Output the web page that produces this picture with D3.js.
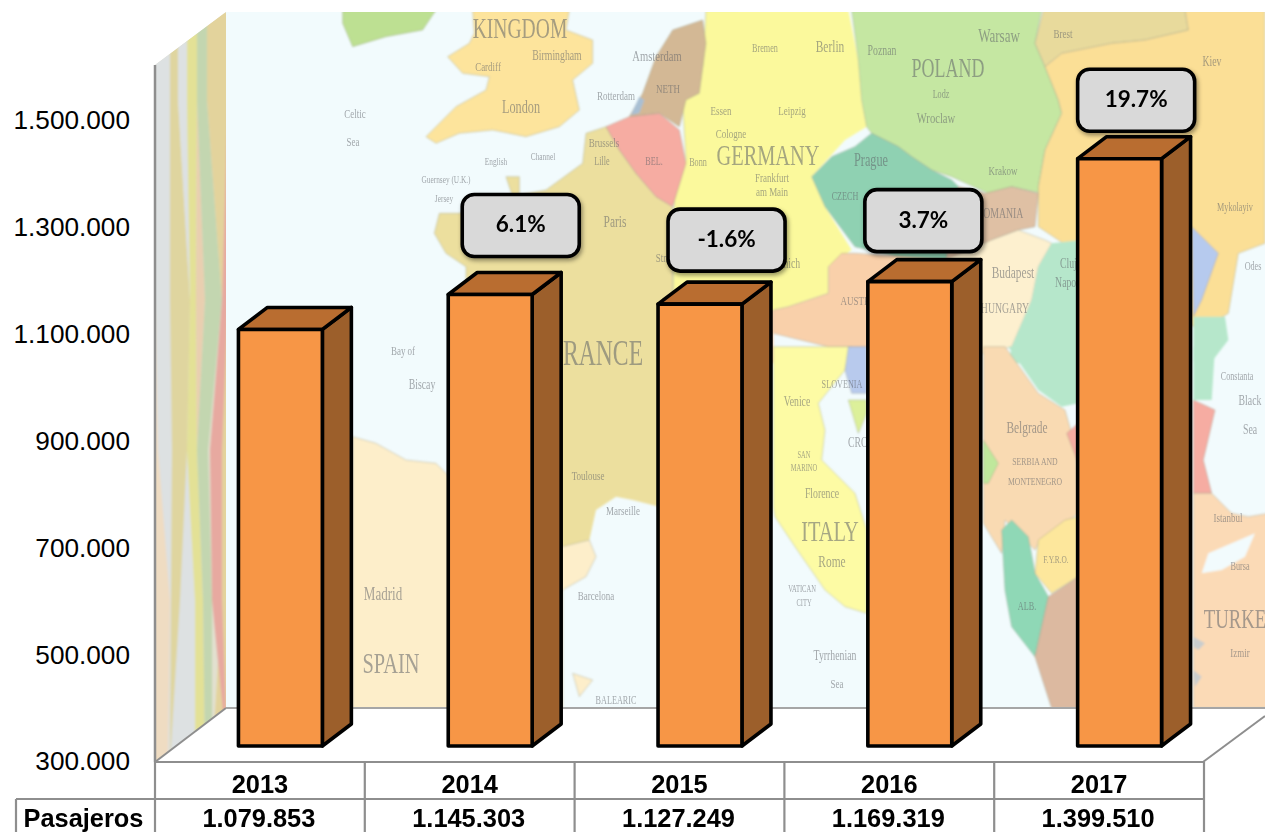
<!DOCTYPE html>
<html><head><meta charset="utf-8">
<script src="https://cdn.jsdelivr.net/npm/d3@7"></script>
<style>html,body{margin:0;padding:0;background:#fff;overflow:hidden}svg{display:block}</style>
</head><body><svg id="c" width="1265" height="832"></svg>
<script>
const years = ["2013","2014","2015","2016","2017"];
const passengers = [1079853,1145303,1127249,1169319,1399510];
const changes = [null,"6.1%","-1.6%","3.7%","19.7%"];
const yTicks = [300000,500000,700000,900000,1100000,1300000,1500000];
const rowLabel = "Pasajeros";

const svg = d3.select("#c");
const es = d3.formatLocale({decimal:",",thousands:".",grouping:[3],currency:["",""]}).format(",d");
const defs = svg.append("defs");
defs.append("filter").attr("id","blur").attr("x","-5%").attr("y","-5%").attr("width","110%").attr("height","110%")
  .append("feGaussianBlur").attr("stdDeviation",1);
defs.append("filter").attr("id","tblur").append("feGaussianBlur").attr("stdDeviation",0.45);
defs.append("filter").attr("id","wblur").append("feGaussianBlur").attr("stdDeviation",1.2);
const sh = defs.append("filter").attr("id","shadow").attr("x","-10%").attr("y","-10%").attr("width","125%").attr("height","130%");
sh.append("feDropShadow").attr("dx",1.5).attr("dy",2.5).attr("stdDeviation",2).attr("flood-color","#000").attr("flood-opacity",.4);
defs.append("clipPath").attr("id","wall").append("rect").attr("x",226).attr("y",12).attr("width",1039).attr("height",696);
defs.append("clipPath").attr("id","side").append("polygon").attr("points","155,65 226,12 226,708 155,762");

/* ---------- backdrop: faded map on the back wall ---------- */
const panels = {a:[226,0],b:[745,0],c:[226,350],d:[745,350]};
const back = svg.append("g").attr("clip-path","url(#wall)");
back.append("rect").attr("x",226).attr("y",12).attr("width",1039).attr("height",696).attr("fill","#f2fbfd");
const land = back.append("g").attr("filter","url(#blur)");
function region(p,color,pts,noLine){
  const [ox,oy]=panels[p];
  land.append("polygon").attr("fill",color).attr("stroke",noLine?"none":"#8d8f7c").attr("stroke-opacity",.35).attr("stroke-width",1)
    .attr("points",pts.trim().split(/\s+/).map(s=>{const [x,y]=s.split(",").map(Number);return (ox+x/3)+","+(oy+y/3);}).join(" "));
}
// west
region("a","#bde092","350,30 630,30 590,90 480,110 380,140 350,70");
region("a","#fde49c","740,30 1030,30 1020,90 1100,120 1100,190 1040,240 1060,330 1000,380 900,410 800,390 700,400 630,430 600,410 690,320 780,270 790,230 710,220 665,170 730,130 745,100");
region("a","#fbf99c","1440,30 1600,30 1600,1000 1340,1000 1345,600 1380,480 1370,310 1430,200");
region("a","#ecdf9e","1080,400 1140,380 1180,450 1230,520 1290,590 1340,620 1340,1080 720,1080 720,800 660,760 625,700 640,640 700,640 860,590 840,530 880,530 880,585 960,570 1070,490");
region("c","#ecdf9e","700,0 1300,0 1300,470 1220,450 1170,440 1110,480 1090,570 1010,590 700,380",true);
region("c","#fdeeca","380,260 450,280 540,330 630,340 660,370 1010,590 1090,570 1110,620 1080,680 1010,720 1010,1090 380,1090 380,400");
region("c","#fdeeca","1040,970 1100,990 1060,1040");
region("a","#d3b895","1340,90 1430,60 1440,130 1420,280 1380,300 1360,380 1300,340 1210,350 1250,280 1290,170");
region("a","#a9bfd3","1215,345 1240,290 1255,300 1240,340",true);
region("a","#f6aca2","1140,380 1210,350 1300,340 1360,390 1380,490 1340,620 1290,590 1230,520 1180,450");
// germany east, central europe
region("b","#fbf99c","-20,30 310,30 340,180 350,300 365,380 300,420 200,530 240,620 320,750 250,800 250,880 130,920 85,930 -20,950",true);
region("b","#c5e7a2","320,30 890,30 870,130 900,200 940,300 950,340 900,450 880,560 890,580 800,560 730,580 620,530 560,510 500,470 460,440 380,400 365,380 350,300 340,180");
region("b","#e8da9c","895,30 1320,30 1330,90 1200,120 1100,130 950,160 900,200 870,130");
region("b","#fbdf96","900,200 950,160 1100,130 1200,120 1330,90 1320,30 1560,30 1560,730 1480,760 1450,940 1370,990 1345,980 1000,760 940,720 880,680 880,560 900,450 950,340 940,300");
region("b","#b6caee","1340,680 1420,760 1370,900 1345,950");
region("b","#8fd1b2","200,530 260,470 330,440 380,400 460,440 500,470 560,510 620,540 640,560 600,800 330,740 240,620");
region("b","#dfc0a4","640,560 720,580 800,560 880,580 870,680 820,690 740,720 600,800");
region("b","#fdf0cf","600,780 740,720 820,690 900,720 920,730 880,800 860,900 800,1040 720,1060 600,1060");
region("b","#b6e7cb","920,730 1010,720 1100,900 1100,1090 790,1090 800,1040 860,900 880,800",true);
region("b","#b6e7cb","1345,950 1440,950 1450,1020 1400,1085 1345,1085",true);
region("b","#f9d0aa","250,800 290,760 330,760 620,780 620,1040 250,1040 85,1000 85,930 130,920 250,880");
region("b","#f9d0aa","-20,950 85,930 85,1090 -20,1090",true);
// south
region("d","#fdfba4","85,-10 320,-10 300,60 220,160 240,240 230,330 330,430 365,540 365,790 300,770 240,720 150,590 90,500 85,470");
region("d","#b8caed","310,-10 365,-10 365,130 320,130 300,60");
region("d","#dcf09a","310,150 365,150 365,190 340,250");
region("d","#f9dab2","715,-10 780,-10 880,130 960,180 980,250 995,330 1000,490 880,580 870,600 780,510 770,610 715,520");
region("d","#b6e7cb","790,-10 1000,-10 1000,160 950,170 880,120",true);
region("d","#f6aca2","965,250 1000,220 1000,340");
region("d","#bfe89c","715,270 760,340 730,400 715,400");
region("d","#fde79c","880,570 960,510 1000,500 1000,680 920,730 870,670");
region("d","#8fd8b6","770,540 800,510 850,560 870,670 910,740 870,920 800,830 780,720");
region("d","#dcb9a0","910,740 1000,680 1000,1075 920,1075 870,920");
region("d","#b6e7cb","1345,-10 1410,-10 1400,150 1345,150",true);
region("d","#f6aca2","1345,150 1410,180 1375,330 1400,430 1345,430");
region("d","#fbdab6","1345,430 1400,430 1460,490 1510,500 1570,490 1570,1075 1345,1075");
region("d","#f2fbfd","1390,610 1530,550 1500,620 1430,660 1370,670",true);
region("d","#c9cdce","1345,860 1380,880 1360,900 1345,890",true);
region("d","#c9cdce","1345,960 1370,980 1350,1010",true);

// map captions: text, x, y, size
const captions = [
 ["KINGDOM",520,38,24],["Birmingham",557,60,12],["Cardiff",488,71,11],["London",521,113,15],
 ["Celtic",355,118,11],["Sea",353,146,11],["Guernsey (U.K.)",446,183,9],["Jersey",444,202,9],
 ["English",496,165,9],["Channel",543,160,9],["Amsterdam",657,61,13],["Rotterdam",616,100,11],["NETH",668,93,11],
 ["Brussels",604,147,11],["Lille",602,165,10],["BEL.",654,165,10],["Paris",615,227,14],["Essen",721,115,11],["Cologne",731,138,11],
 ["GERMANY",768,165,25],["Bonn",698,166,10],["Frankfurt",772,182,11],["am Main",772,196,11],["Bremen",765,52,10],["Berlin",830,52,14],
 ["Leipzig",792,115,11],["Prague",871,166,15],["CZECH",845,200,10],["Poznan",882,55,12],["POLAND",948,77,22],["Lodz",941,98,10],
 ["Warsaw",999,42,16],["Wroclaw",936,123,13],["Krakow",1003,175,11],["Brest",1063,38,11],["Kiev",1212,66,12],["Mykolayiv",1235,211,10],
 ["Odes",1253,270,10],["Bay of",403,355,11],["Biscay",422,389,12],["RANCE",603,365,29],["Toulouse",588,480,11],["Marseille",623,515,11],
 ["Madrid",383,600,16],["SPAIN",391,673,25],["Barcelona",596,600,11],["BALEARIC",616,704,10],["Venice",797,406,12],["SLOVENIA",842,388,10],
 ["SAN",804,458,8],["MARINO",804,471,8],["Florence",822,498,12],["ITALY",830,541,25],["Rome",832,567,14],["VATICAN",802,592,8],["CITY",804,606,8],
 ["Tyrrhenian",835,660,12],["Sea",837,688,11],["Belgrade",1027,433,14],["SERBIA AND",1035,465,9.5],["MONTENEGRO",1035,485,9.5],["F.Y.R.O.",1056,563,9],
 ["ALB.",1027,610,10],["Constanta",1237,380,10],["Black",1250,405,12],["Sea",1250,434,12],["Istanbul",1228,522,11],["Bursa",1240,570,10],
 ["TURKE",1235,628,23],["Izmir",1240,657,11],["Budapest",1013,278,14],["AUSTRIA",860,305,11],["Munich",785,268,12],["Cluj-",1070,268,12],["Napoca",1070,287,12],
 ["ROMANIA",1000,218,12],["HUNGARY",1005,313,12],["CRO",858,447,12],["Strasbourg",675,262,11]
];
back.append("g").attr("filter","url(#tblur)").selectAll("text").data(captions).join("text")
  .attr("transform",d=>`translate(${d[1]},${d[2]}) scale(.68,1)`).attr("font-size",d=>d[3]*1.2).attr("text-anchor","middle")
  .attr("font-family","Liberation Serif").attr("fill","#5f6268").attr("opacity",.55).text(d=>d[0]);

/* ---------- side wall ---------- */
const sideG = svg.append("g").attr("clip-path","url(#side)");
const bandLine = d3.line().x(d=>d[0]).y(d=>d[1]);
const sideYs=[12,100,300,450,600,762];
const sideBands=[
 ["#dde1e2",[155,155,155,155,155,155],[172,172,172,174,172,170]],
 ["#efdcc2",[155,155,155,155,155,155],[155,155,155,158,170,168]],
 ["#dfd59f",[170,170,170,172,171,170],[178,178,190,187,185,172]],
 ["#dde1e2",[178,178,190,187,180,170],[187,187,190,187,195,195]],
 ["#e3e196",[187,187,190,187,195,195],[197,197,196,197,203,205]],
 ["#e9cfb0",[197,197,196,197,197,197],[197,197,205,197,197,197]],
 ["#c3d6b0",[197,197,205,197,203,205],[207,207,222,208,212,212]],
 ["#e3d39c",[207,207,222,222,222,212],[228,228,228,228,228,228]],
 ["#e7a9a0",[228,228,222,210,212,228],[228,228,228,222,222,228]]
];
sideG.append("rect").attr("x",150).attr("y",0).attr("width",80).attr("height",770).attr("fill","#e2e0cf");
sideG.append("g").attr("filter","url(#wblur)").selectAll("path").data(sideBands).join("path")
  .attr("fill",d=>d[0]).attr("d",d=>{
    const l=d[1].map((x,i)=>[x,sideYs[i]]), r=d[2].map((x,i)=>[x,sideYs[i]]).reverse();
    return bandLine(l.concat(r))+"Z";});

/* ---------- floor and frame ---------- */
const grey="#8e8e8e";
svg.append("polygon").attr("points","155,762 226,708 1265,708 1265,716 1203,762").attr("fill","#fff");
const frame=[[155,65,155,762],[155,762,226,708],[226,708,1265,708],[1203,762,1265,716]];
svg.append("g").selectAll("line").data(frame).join("line")
  .attr("x1",d=>d[0]).attr("y1",d=>d[1]).attr("x2",d=>d[2]).attr("y2",d=>d[3])
  .attr("stroke",(d,i)=>i===2?"#a6a6a6":grey).attr("stroke-width",(d,i)=>i===0?2.5:2);

/* ---------- scales ---------- */
const y = d3.scaleLinear().domain([300000,1500000]).range([761.5,120.5]);
const x = d3.scaleBand().domain(years).range([155,1204]).paddingInner(0.6).paddingOuter(0.3);
const depth = {x:29,y:-22};
const floorShift = {x:20.5,y:-15.5};

const axis = d3.axisLeft(y).tickValues(yTicks).tickFormat(es).tickSize(0).tickPadding(0);
const gA = svg.append("g").attr("transform","translate(130,0)").call(axis);
gA.select(".domain").remove();
gA.selectAll("text").attr("font-family","Liberation Sans").attr("font-size",26.2).attr("fill","#000");

/* ---------- bars ---------- */
const gB = svg.append("g").selectAll("g").data(years).join("g");
const bx = d=>x(d)+floorShift.x;
const val = (d,i)=>passengers[i];
const by0 = y(300000)+floorShift.y;
const byT = v=>y(v)+floorShift.y;
const w = x.bandwidth();
const strokeOpts = s=>s.attr("stroke","#000").attr("stroke-width",3.6).attr("stroke-linejoin","round");
gB.append("polygon").attr("fill","#9c5f2b").call(strokeOpts).attr("points",(d,i)=>{
  const X=bx(d)+w,T=byT(val(d,i));
  return [[X,T],[X+depth.x,T+depth.y],[X+depth.x,by0+depth.y],[X,by0]].join(" ");});
gB.append("polygon").attr("fill","#b96d30").call(strokeOpts).attr("points",(d,i)=>{
  const X=bx(d),T=byT(val(d,i));
  return [[X,T],[X+depth.x,T+depth.y],[X+w+depth.x,T+depth.y],[X+w,T]].join(" ");});
gB.append("rect").attr("fill","#f79646").call(strokeOpts)
  .attr("x",d=>bx(d)).attr("width",w)
  .attr("y",(d,i)=>byT(val(d,i))).attr("height",(d,i)=>by0-byT(val(d,i)));

/* ---------- callouts ---------- */
const calloutShift=[null,[14,-100],[10,-95],[-3,-92],[0,-89.5]];
const callW=117, callH=62;
const gC = svg.append("g").selectAll("g").data(years.filter((d,i)=>changes[i])).join("g")
  .attr("transform",d=>{const i=years.indexOf(d),s=calloutShift[i];
    return `translate(${bx(d)+s[0]},${byT(passengers[i])+s[1]})`;});
gC.append("rect").attr("width",callW).attr("height",callH).attr("rx",12).attr("fill","#d9d9d9")
  .attr("stroke","#000").attr("stroke-width",3.6).attr("filter","url(#shadow)");
gC.append("text").attr("x",callW/2).attr("y",callH/2+7).attr("text-anchor","middle")
  .attr("font-family","Lato").attr("font-weight",700).attr("font-size",22.5).attr("fill","#000")
  .text(d=>changes[years.indexOf(d)]);

/* ---------- data table ---------- */
const step = x.step();
const colEdge = i=>155+i*step;
const tbl = svg.append("g");
const hLines=[[155,1204,762],[16,1204,799]];
tbl.selectAll("line.h").data(hLines).join("line").attr("class","h")
  .attr("x1",d=>d[0]).attr("x2",d=>d[1]).attr("y1",d=>d[2]).attr("y2",d=>d[2])
  .attr("stroke",grey).attr("stroke-width",2.2);
tbl.selectAll("line.v").data(d3.range(years.length+1)).join("line").attr("class","v")
  .attr("x1",colEdge).attr("x2",colEdge).attr("y1",762).attr("y2",832)
  .attr("stroke",grey).attr("stroke-width",2.2);
tbl.append("line").attr("x1",16).attr("x2",16).attr("y1",799).attr("y2",832).attr("stroke",grey).attr("stroke-width",2.2);
const tf=s=>s.attr("font-family","Liberation Sans").attr("font-weight",700).attr("font-size",25.4)
  .attr("text-anchor","middle").attr("fill","#000");
tbl.selectAll("text.yr").data(years).join("text").attr("class","yr").call(tf)
  .attr("x",d=>x(d)+w/2).attr("y",793).text(d=>d);
tbl.selectAll("text.val").data(passengers).join("text").attr("class","val").call(tf)
  .attr("x",(d,i)=>x(years[i])+w/2-1).attr("y",827).text(d=>es(d));
tbl.append("text").call(tf).attr("x",83.5).attr("y",827).text(rowLabel);
</script></body></html>
